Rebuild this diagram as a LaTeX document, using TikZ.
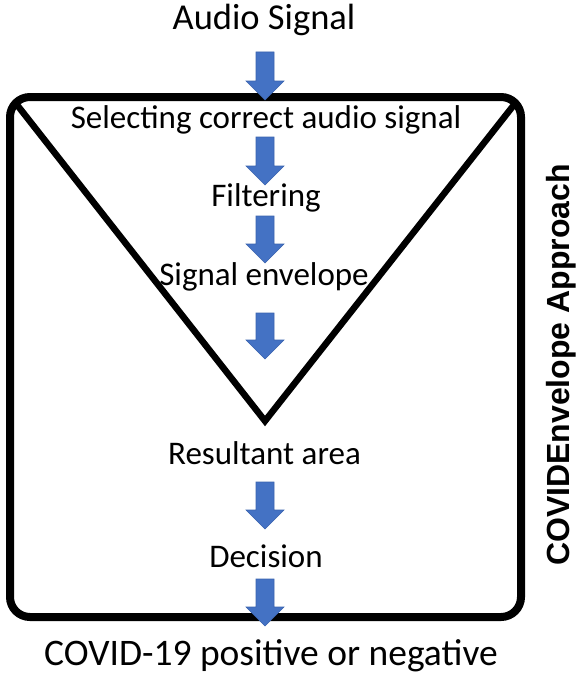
\documentclass[tikz,border=0pt]{standalone}
\usepackage{fontspec}
\setmainfont{Carlito}
\newfontfamily\sidefont{Liberation Sans}
\usetikzlibrary{calc}
\definecolor{arrowblue}{HTML}{4472C4}
\definecolor{arrowedge}{HTML}{3A63AE}
\newcommand\blockarrow[3]{%
  \fill[arrowblue,draw=arrowedge,line width=0.6pt]
    (#1-9,#2) -- (#1+9,#2) -- (#1+9,#3-19) -- (#1+19,#3-19) -- (#1,#3)
    -- (#1-19,#3-19) -- (#1-9,#3-19) -- cycle;}
\begin{document}
\begin{tikzpicture}[x=1pt,y=-1pt,
  lbl/.style={font=\fontsize{33}{36}\selectfont,anchor=base,inner sep=0pt},
  biglbl/.style={font=\fontsize{36.5}{40}\selectfont,anchor=base,inner sep=0pt},
  outlbl/.style={font=\fontsize{37.5}{40}\selectfont,anchor=base,inner sep=0pt},
  frame/.style={draw=black,line width=8pt,rounded corners=20pt},
  vee/.style={draw=black,line width=6.5pt}]
\useasboundingbox (0,0) rectangle (578,677);
% frame and triangle
\draw[frame] (10,97) rectangle (521,617);
\coordinate (tl) at (14,101);
\coordinate (tr) at (517,101);
\coordinate (apex) at (265,421);
\draw[vee] (tl) -- (apex) -- (tr);
% labels
\node[biglbl] (audio) at (264,30) {Audio Signal};
\node[lbl] (select) at (266,128) {Selecting correct audio signal};
\node[lbl] (filter) at (266,206) {Filtering};
\node[lbl] (env) at (264,285) {Signal envelope};
\node[lbl] (area) at (264.5,464) {Resultant area};
\node[lbl] (dec) at (266,567) {Decision};
\node[outlbl] (out) at (271,665) {COVID-19 positive or negative};
\node[font=\sidefont\bfseries\fontsize{32}{36}\selectfont,rotate=90,inner sep=0pt] (side) at (561,365) {COVIDEnvelope Approach};
% arrows
\blockarrow{265}{52}{100}
\blockarrow{265}{137}{185}
\blockarrow{265}{216}{263}
\blockarrow{265}{313}{359}
\blockarrow{265}{482}{529}
\blockarrow{265}{579}{626}
\end{tikzpicture}
\end{document}
